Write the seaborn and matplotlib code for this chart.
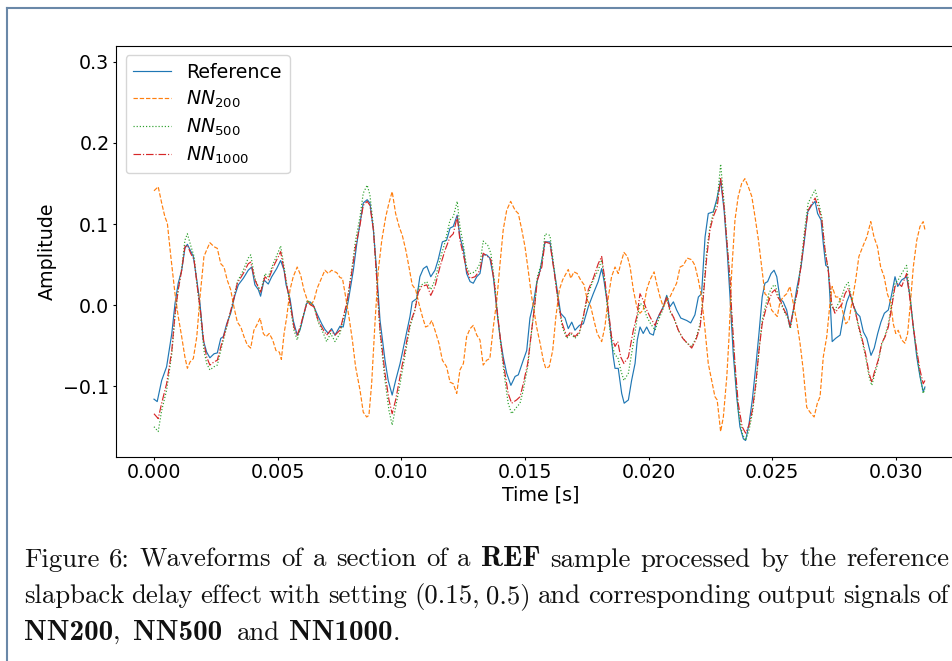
import re
import numpy as np
import matplotlib
matplotlib.use("Agg")
import matplotlib.pyplot as plt
from matplotlib.lines import Line2D
import seaborn as sns

# ---------------------------------------------------------------- data
# Reference output of the slapback delay (time in ms, amplitude)
t_ref_ms = [0.00, 0.13, 0.31, 0.51, 0.72, 0.85, 0.98, 1.12, 1.25, 1.35, 1.46, 1.59, 1.73, 1.86, 1.99, 2.13, 2.26, 2.43, 2.56, 2.70,
            2.80, 2.94, 3.10, 3.27, 3.41, 3.61, 3.81, 3.95, 4.08, 4.22, 4.31, 4.45, 4.62, 4.76, 4.96, 5.12, 5.26, 5.34, 5.50, 5.63,
            5.79, 5.90, 6.04, 6.17, 6.31, 6.44, 6.58, 6.78, 6.91, 7.05, 7.18, 7.32, 7.52, 7.65, 7.86, 8.06, 8.20, 8.33, 8.46, 8.62,
            8.73, 8.87, 9.00, 9.14, 9.34, 9.47, 9.63, 9.77, 9.95, 10.15, 10.35, 10.44, 10.62, 10.75, 10.89, 11.03, 11.19, 11.36, 11.49, 11.66,
            11.83, 11.97, 12.10, 12.26, 12.37, 12.51, 12.64, 12.78, 12.91, 13.05, 13.18, 13.31, 13.45, 13.58, 13.72, 13.86, 13.99, 14.12, 14.26, 14.43,
            14.60, 14.73, 14.93, 15.07, 15.20, 15.34, 15.47, 15.61, 15.81, 16.01, 16.14, 16.28, 16.44, 16.62, 16.75, 16.89, 17.02, 17.20, 17.36, 17.56,
            17.76, 17.96, 18.10, 18.19, 18.33, 18.44, 18.57, 18.64, 18.77, 18.91, 19.01, 19.18, 19.31, 19.45, 19.54, 19.65, 19.78, 19.92, 20.05, 20.19,
            20.32, 20.46, 20.59, 20.73, 20.86, 21.00, 21.13, 21.30, 21.54, 21.70, 21.87, 22.01, 22.14, 22.28, 22.41, 22.61, 22.75, 22.91, 23.05, 23.18,
            23.29, 23.42, 23.56, 23.69, 23.83, 23.92, 24.06, 24.19, 24.33, 24.46, 24.59, 24.70, 24.81, 24.95, 25.07, 25.18, 25.31, 25.44, 25.58, 25.71,
            25.85, 25.98, 26.16, 26.29, 26.43, 26.59, 26.73, 26.83, 26.97, 27.06, 27.16, 27.26, 27.33, 27.42, 27.56, 27.74, 27.87, 28.01, 28.14, 28.27,
            28.41, 28.54, 28.68, 28.82, 28.99, 29.12, 29.26, 29.39, 29.53, 29.69, 29.83, 29.96, 30.07, 30.23, 30.43, 30.57, 30.70, 30.84, 30.97, 31.10,
            31.17]
ref_amp = [-0.116, -0.119, -0.093, -0.076, -0.035, 0.002, 0.027, 0.043, 0.070, 0.075, 0.068, 0.060, 0.031, 0.002, -0.043, -0.058, -0.065, -0.060, -0.059, -0.041,
           -0.039, -0.023, -0.010, 0.012, 0.025, 0.033, 0.043, 0.047, 0.025, 0.019, 0.011, 0.031, 0.026, 0.035, 0.045, 0.055, 0.043, 0.025, 0.008, -0.019,
           -0.037, -0.031, -0.014, 0.002, 0.004, 0.000, -0.010, -0.023, -0.030, -0.035, -0.029, -0.037, -0.026, -0.027, 0.006, 0.043, 0.076, 0.101, 0.126, 0.130,
           0.126, 0.093, 0.043, -0.019, -0.068, -0.093, -0.111, -0.093, -0.072, -0.043, -0.014, 0.004, 0.008, 0.035, 0.045, 0.048, 0.035, 0.043, 0.056, 0.078,
           0.080, 0.095, 0.097, 0.111, 0.084, 0.068, 0.039, 0.029, 0.027, 0.035, 0.039, 0.062, 0.062, 0.058, 0.035, -0.006, -0.039, -0.064, -0.084, -0.099,
           -0.088, -0.086, -0.068, -0.056, -0.016, 0.002, 0.027, 0.043, 0.078, 0.078, 0.051, 0.023, -0.010, -0.016, -0.029, -0.021, -0.031, -0.025, -0.023, -0.002,
           0.014, 0.029, 0.045, 0.031, 0.002, -0.027, -0.064, -0.078, -0.078, -0.109, -0.121, -0.117, -0.093, -0.072, -0.043, -0.027, -0.035, -0.027, -0.035, -0.037,
           -0.019, -0.010, -0.002, 0.012, -0.002, 0.004, -0.006, -0.016, -0.019, -0.022, -0.012, 0.010, 0.014, 0.084, 0.113, 0.115, 0.130, 0.154, 0.117, 0.064,
           0.010, -0.060, -0.113, -0.150, -0.165, -0.167, -0.146, -0.117, -0.076, -0.035, 0.010, 0.027, 0.029, 0.039, 0.043, 0.035, 0.008, 0.004, -0.006, -0.027,
           -0.006, 0.019, 0.047, 0.078, 0.115, 0.123, 0.128, 0.113, 0.105, 0.076, 0.049, 0.047, 0.010, -0.045, -0.041, -0.037, -0.014, 0.004, 0.014, 0.000,
           -0.010, -0.014, -0.033, -0.041, -0.062, -0.053, -0.035, -0.021, -0.010, -0.006, 0.014, 0.035, 0.023, 0.031, 0.035, 0.010, -0.027, -0.064, -0.088, -0.107,
           -0.101]

# NN200 output (time in ms, amplitude)
t_nn200_ms = [0.00, 0.17, 0.31, 0.44, 0.54, 0.68, 0.85, 0.98, 1.12, 1.25, 1.35, 1.46, 1.59, 1.73, 1.86, 2.02, 2.13, 2.26, 2.43, 2.56,
              2.70, 2.83, 2.96, 3.10, 3.23, 3.37, 3.51, 3.64, 3.77, 3.91, 4.04, 4.15, 4.29, 4.42, 4.53, 4.66, 4.80, 4.93, 5.07, 5.15,
              5.26, 5.37, 5.50, 5.63, 5.79, 5.93, 6.06, 6.20, 6.34, 6.47, 6.60, 6.74, 6.91, 7.05, 7.18, 7.39, 7.52, 7.62, 7.75, 7.88,
              8.02, 8.15, 8.33, 8.46, 8.60, 8.69, 8.80, 8.94, 9.07, 9.21, 9.37, 9.50, 9.63, 9.77, 9.91, 10.04, 10.18, 10.31, 10.44, 10.58,
              10.71, 10.85, 10.98, 11.12, 11.23, 11.36, 11.52, 11.66, 11.83, 11.97, 12.10, 12.24, 12.37, 12.51, 12.64, 12.78, 12.91, 13.05, 13.18, 13.31,
              13.45, 13.58, 13.72, 13.86, 13.99, 14.12, 14.26, 14.42, 14.60, 14.73, 14.87, 15.00, 15.13, 15.27, 15.34, 15.47, 15.61, 15.74, 15.84, 15.98,
              16.12, 16.25, 16.39, 16.52, 16.66, 16.75, 16.85, 16.98, 17.11, 17.25, 17.39, 17.52, 17.66, 17.79, 17.92, 18.10, 18.23, 18.37, 18.50, 18.64,
              18.77, 18.87, 19.00, 19.14, 19.25, 19.38, 19.52, 19.65, 19.78, 19.92, 20.05, 20.22, 20.32, 20.46, 20.59, 20.73, 20.86, 21.00, 21.13, 21.27,
              21.40, 21.56, 21.74, 21.87, 22.01, 22.14, 22.28, 22.41, 22.55, 22.68, 22.77, 22.91, 23.02, 23.16, 23.25, 23.36, 23.49, 23.62, 23.76, 23.89,
              24.03, 24.17, 24.30, 24.44, 24.57, 24.70, 24.84, 24.97, 25.08, 25.20, 25.31, 25.44, 25.58, 25.71, 25.85, 25.98, 26.12, 26.25, 26.39, 26.52,
              26.69, 26.82, 26.93, 27.06, 27.20, 27.33, 27.42, 27.56, 27.70, 27.83, 27.97, 28.10, 28.21, 28.37, 28.50, 28.68, 28.82, 28.98, 29.11, 29.25,
              29.38, 29.52, 29.65, 29.79, 29.89, 29.99, 30.09, 30.23, 30.36, 30.47, 30.57, 30.70, 30.84, 30.97, 31.10, 31.17]
nn200_amp = [0.141, 0.146, 0.126, 0.109, 0.101, 0.060, 0.014, -0.014, -0.039, -0.064, -0.078, -0.070, -0.066, -0.039, 0.010, 0.060, 0.068, 0.077, 0.072, 0.070,
             0.051, 0.047, 0.031, 0.019, -0.002, -0.021, -0.027, -0.039, -0.049, -0.053, -0.031, -0.025, -0.016, -0.035, -0.039, -0.035, -0.043, -0.056, -0.058, -0.067,
             -0.035, -0.014, 0.019, 0.035, 0.047, 0.037, 0.019, 0.006, 0.000, 0.006, 0.021, 0.031, 0.043, 0.039, 0.043, 0.040, 0.034, 0.033, 0.010, -0.014,
             -0.043, -0.076, -0.105, -0.132, -0.138, -0.136, -0.097, -0.019, 0.043, 0.080, 0.109, 0.126, 0.140, 0.113, 0.097, 0.086, 0.068, 0.047, 0.025, 0.019,
             0.002, -0.014, -0.027, -0.025, -0.019, -0.031, -0.047, -0.068, -0.076, -0.095, -0.097, -0.109, -0.080, -0.072, -0.039, -0.029, -0.025, -0.037, -0.043, -0.074,
             -0.068, -0.066, -0.027, 0.006, 0.051, 0.093, 0.117, 0.128, 0.117, 0.113, 0.093, 0.072, 0.043, 0.010, -0.002, -0.027, -0.047, -0.068, -0.078, -0.076,
             -0.056, -0.014, 0.019, 0.031, 0.039, 0.044, 0.033, 0.041, 0.039, 0.031, 0.025, 0.006, -0.002, -0.019, -0.035, -0.045, -0.027, 0.010, 0.035, 0.047,
             0.039, 0.051, 0.065, 0.060, 0.047, 0.019, -0.002, -0.010, -0.006, 0.019, 0.031, 0.041, 0.027, 0.010, -0.002, 0.006, 0.010, 0.019, 0.027, 0.047,
             0.049, 0.058, 0.056, 0.049, 0.031, 0.010, -0.031, -0.072, -0.093, -0.113, -0.117, -0.156, -0.138, -0.088, -0.039, 0.043, 0.105, 0.134, 0.150, 0.156,
             0.146, 0.134, 0.109, 0.080, 0.047, 0.014, 0.010, -0.006, -0.010, -0.014, 0.004, 0.010, 0.014, 0.023, 0.002, -0.019, -0.047, -0.080, -0.126, -0.132,
             -0.138, -0.121, -0.113, -0.064, -0.039, 0.002, 0.023, 0.010, 0.010, -0.006, -0.023, -0.019, 0.002, 0.031, 0.060, 0.074, 0.084, 0.103, 0.084, 0.072,
             0.047, 0.035, 0.014, 0.002, -0.023, -0.035, -0.031, -0.043, -0.047, -0.035, -0.002, 0.047, 0.080, 0.097, 0.103, 0.093]

# NN500 and NN1000 outputs share one time base (ms)
t_nn_ms = [0.00, 0.17, 0.31, 0.51, 0.72, 0.85, 0.98, 1.12, 1.25, 1.35, 1.48, 1.62, 1.75, 1.89, 2.02, 2.13, 2.26, 2.43, 2.56, 2.74,
           2.96, 3.18, 3.37, 3.61, 3.81, 3.91, 4.08, 4.31, 4.49, 4.62, 4.82, 5.03, 5.12, 5.26, 5.37, 5.53, 5.66, 5.79, 5.93, 6.06,
           6.20, 6.34, 6.47, 6.64, 6.85, 6.98, 7.14, 7.32, 7.52, 7.79, 7.99, 8.15, 8.33, 8.46, 8.62, 8.73, 8.87, 9.00, 9.14, 9.34,
           9.50, 9.63, 9.77, 9.95, 10.15, 10.35, 10.55, 10.69, 10.82, 11.03, 11.19, 11.36, 11.56, 11.77, 11.97, 12.10, 12.26, 12.37, 12.51, 12.64,
           12.78, 12.98, 13.18, 13.31, 13.49, 13.62, 13.76, 13.90, 14.06, 14.19, 14.32, 14.46, 14.66, 14.80, 14.93, 15.11, 15.27, 15.40, 15.50, 15.68,
           15.81, 16.01, 16.17, 16.35, 16.51, 16.69, 16.85, 17.02, 17.20, 17.36, 17.56, 17.76, 17.96, 18.10, 18.23, 18.37, 18.50, 18.64, 18.75, 18.87,
           19.00, 19.18, 19.38, 19.52, 19.65, 19.78, 19.92, 20.08, 20.26, 20.39, 20.57, 20.73, 20.86, 21.02, 21.20, 21.38, 21.56, 21.74, 21.91, 22.08,
           22.21, 22.35, 22.48, 22.61, 22.77, 22.91, 23.05, 23.18, 23.29, 23.36, 23.49, 23.62, 23.78, 23.92, 24.06, 24.19, 24.33, 24.46, 24.59, 24.73,
           24.86, 25.00, 25.11, 25.22, 25.35, 25.48, 25.62, 25.73, 25.86, 26.03, 26.19, 26.32, 26.45, 26.62, 26.73, 26.86, 27.00, 27.13, 27.26, 27.40,
           27.53, 27.67, 27.80, 27.94, 28.07, 28.21, 28.37, 28.50, 28.64, 28.77, 28.91, 29.02, 29.15, 29.28, 29.42, 29.56, 29.69, 29.83, 29.96, 30.09,
           30.23, 30.43, 30.57, 30.70, 30.84, 30.97, 31.10, 31.17]
nn500_amp = [-0.150, -0.156, -0.130, -0.105, -0.060, -0.014, 0.019, 0.045, 0.080, 0.088, 0.074, 0.060, 0.023, -0.014, -0.056, -0.072, -0.080, -0.076, -0.074, -0.051,
             -0.025, 0.002, 0.029, 0.043, 0.058, 0.062, 0.033, 0.016, 0.039, 0.035, 0.051, 0.066, 0.073, 0.047, 0.025, -0.006, -0.031, -0.043, -0.027, -0.010,
             0.006, 0.002, -0.002, -0.021, -0.035, -0.045, -0.035, -0.045, -0.035, 0.000, 0.043, 0.080, 0.109, 0.138, 0.148, 0.136, 0.097, 0.035, -0.035, -0.093,
             -0.130, -0.148, -0.126, -0.097, -0.062, -0.027, -0.006, 0.021, 0.025, 0.029, 0.019, 0.031, 0.056, 0.078, 0.105, 0.109, 0.128, 0.097, 0.074, 0.047,
             0.039, 0.041, 0.051, 0.079, 0.074, 0.064, 0.031, -0.014, -0.060, -0.093, -0.121, -0.134, -0.126, -0.121, -0.105, -0.076, -0.031, 0.002, 0.035, 0.053,
             0.088, 0.086, 0.047, 0.002, -0.027, -0.041, -0.035, -0.041, -0.035, -0.014, 0.014, 0.031, 0.043, 0.056, 0.027, -0.014, -0.047, -0.062, -0.064, -0.080,
             -0.093, -0.084, -0.047, -0.019, 0.002, 0.000, -0.014, -0.023, -0.031, -0.019, -0.006, 0.010, -0.008, -0.016, -0.031, -0.041, -0.047, -0.051, -0.041, -0.023,
             0.014, 0.068, 0.097, 0.113, 0.128, 0.174, 0.126, 0.072, 0.031, -0.014, -0.080, -0.130, -0.158, -0.167, -0.154, -0.134, -0.101, -0.056, -0.019, 0.000,
             0.014, 0.023, 0.025, 0.014, 0.002, -0.008, -0.016, -0.029, -0.006, 0.021, 0.060, 0.097, 0.126, 0.136, 0.142, 0.128, 0.109, 0.068, 0.043, -0.002,
             -0.006, 0.002, 0.010, 0.023, 0.028, 0.008, -0.010, -0.029, -0.045, -0.064, -0.088, -0.099, -0.084, -0.070, -0.049, -0.037, -0.023, 0.002, 0.027, 0.031,
             0.039, 0.049, 0.010, -0.027, -0.060, -0.086, -0.109, -0.103]
nn1000_amp = [-0.134, -0.140, -0.121, -0.097, -0.056, -0.010, 0.019, 0.043, 0.072, 0.074, 0.064, 0.056, 0.023, -0.010, -0.047, -0.064, -0.074, -0.070, -0.068, -0.047,
              -0.023, 0.002, 0.027, 0.039, 0.051, 0.053, 0.031, 0.016, 0.035, 0.031, 0.047, 0.060, 0.066, 0.043, 0.025, -0.002, -0.027, -0.037, -0.025, -0.010,
              0.004, 0.000, -0.002, -0.019, -0.031, -0.037, -0.031, -0.037, -0.031, 0.002, 0.039, 0.072, 0.099, 0.123, 0.128, 0.123, 0.093, 0.035, -0.031, -0.084,
              -0.117, -0.134, -0.117, -0.088, -0.056, -0.023, -0.006, 0.016, 0.023, 0.025, 0.012, 0.023, 0.047, 0.068, 0.084, 0.088, 0.109, 0.080, 0.062, 0.043,
              0.033, 0.035, 0.043, 0.064, 0.060, 0.056, 0.027, -0.014, -0.056, -0.084, -0.109, -0.121, -0.117, -0.113, -0.097, -0.072, -0.031, 0.002, 0.031, 0.047,
              0.078, 0.076, 0.043, 0.002, -0.023, -0.039, -0.033, -0.039, -0.033, -0.014, 0.019, 0.033, 0.051, 0.060, 0.031, -0.006, -0.039, -0.051, -0.045, -0.064,
              -0.072, -0.064, -0.031, -0.014, 0.014, 0.006, -0.006, -0.016, -0.025, -0.014, -0.004, 0.010, -0.006, -0.016, -0.031, -0.041, -0.047, -0.053, -0.043, -0.027,
              0.010, 0.060, 0.093, 0.109, 0.121, 0.156, 0.121, 0.072, 0.031, -0.010, -0.072, -0.121, -0.150, -0.158, -0.148, -0.130, -0.097, -0.056, -0.023, -0.006,
              0.006, 0.016, 0.019, 0.010, 0.004, -0.006, -0.014, -0.027, -0.004, 0.019, 0.056, 0.088, 0.117, 0.126, 0.132, 0.121, 0.105, 0.068, 0.043, 0.002,
              -0.010, -0.004, 0.000, 0.014, 0.021, 0.006, -0.010, -0.027, -0.043, -0.060, -0.084, -0.095, -0.080, -0.068, -0.047, -0.039, -0.027, -0.002, 0.023, 0.027,
              0.023, 0.039, 0.006, -0.027, -0.056, -0.080, -0.097, -0.093]

series_labels = ["Reference", r"$NN_{200}$", r"$NN_{500}$", r"$NN_{1000}$"]
x_ticks = [0.000, 0.005, 0.010, 0.015, 0.020, 0.025, 0.030]
y_ticks = [-0.1, 0.0, 0.1, 0.2, 0.3]

caption_lines = [
    "Figure 6: Waveforms of a section of a **REF** sample processed by the reference",
    "slapback delay effect with setting (0.15, 0.5) and corresponding output signals of",
    "**NN200**, **NN500** and **NN1000**.",
]

for name, t, v in [("ref", t_ref_ms, ref_amp), ("nn200", t_nn200_ms, nn200_amp),
                   ("nn500", t_nn_ms, nn500_amp), ("nn1000", t_nn_ms, nn1000_amp)]:
    assert len(t) == len(v), f"{name}: {len(t)} times vs {len(v)} values"

# ---------------------------------------------------------------- figure
W, H = 953, 661
fig = plt.figure(figsize=(W / 100, H / 100), dpi=100)
fig.patch.set_facecolor("white")

# axes run past the right edge of the page image
ax = fig.add_axes([116 / W, 1 - 456.7 / H, (965 - 116) / W, (456.7 - 45.7) / H])

series = [
    (t_ref_ms, ref_amp, "#1f77b4", "-", series_labels[0]),
    (t_nn200_ms, nn200_amp, "#ff7f0e", "--", series_labels[1]),
    (t_nn_ms, nn500_amp, "#2ca02c", ":", series_labels[2]),
    (t_nn_ms, nn1000_amp, "#d62728", "-.", series_labels[3]),
]
for t_ms, amp, col, ls, lab in series:
    sns.lineplot(x=np.asarray(t_ms) / 1000.0, y=amp, ax=ax, color=col, linestyle=ls,
                 linewidth=0.85, label=lab, estimator=None, sort=False)

ax.set_xlim(-0.001536, 0.03279)
ax.set_ylim(-0.187, 0.320)
ax.set_xticks(x_ticks)
ax.set_yticks(y_ticks)
ax.tick_params(labelsize=13.7, length=2.5, pad=2.2, width=0.8)
ax.set_xlabel("Time [s]", fontsize=13.7, labelpad=2.5)
ax.set_ylabel("Amplitude", fontsize=13.7, labelpad=5)
ax.legend(loc="upper left", fontsize=13.7, labelspacing=0.35)

# page frame lines
frame_col = "#6a88a8"
fig.add_artist(Line2D([7.5 / W, 1.0], [1 - 7.5 / H, 1 - 7.5 / H], transform=fig.transFigure,
                      color=frame_col, lw=1.5))
fig.add_artist(Line2D([7.5 / W, 7.5 / W], [0.0, 1 - 7.5 / H], transform=fig.transFigure,
                      color=frame_col, lw=1.5))

# ---------------------------------------------------------------- caption
cap_left, cap_right = 24.0, 949.0
cap_baselines = [566.5, 603.3, 640.0]
cap_justify = [True, True, False]
last_line_starts = [24.0, 133.0, 237.0, 289.0]   # word start positions (px) of the closing line
word_gap = 7.0
renderer = fig.canvas.get_renderer()


def text_width(txt, family, size):
    probe = fig.text(0, 0, txt, fontfamily=family, fontsize=size)
    w = probe.get_window_extent(renderer).width
    probe.remove()
    return w


def word_runs(word):
    out = []
    for part in re.split(r"(\*\*[^*]+\*\*)", word):
        if not part:
            continue
        if part.startswith("**"):
            out.append((part[2:-2], True))
        else:
            out.append((part, False))
    return out


# size the roman face so the second line sets with ordinary word spacing,
# and the bold face so "NN1000" spans its usual width
probe_fs = 20.0
line2_words = caption_lines[1].split(" ")
line2_w = sum(text_width(w, "cmr10", probe_fs) for w in line2_words)
cap_fs = probe_fs * (cap_right - cap_left - (len(line2_words) - 1) * word_gap) / line2_w
bold_fs = probe_fs * 104.0 / text_width("NN1000", "cmb10", probe_fs)

for line, base, just in zip(caption_lines, cap_baselines, cap_justify):
    items = []
    for word in line.split(" "):
        arts = [fig.text(0, 1 - base / H, txt, fontfamily="cmb10" if bold else "cmr10",
                         fontsize=bold_fs if bold else cap_fs, va="baseline", ha="left",
                         color="#111111")
                for txt, bold in word_runs(word)]
        items.append(arts)
    widths = [[a.get_window_extent(renderer).width for a in arts] for arts in items]
    total = sum(sum(ws) for ws in widths)
    if just:
        gap = (cap_right - cap_left - total) / (len(items) - 1)
        starts = []
        x = cap_left
        for ws in widths:
            starts.append(x)
            x += sum(ws) + gap
    else:
        starts = last_line_starts
    for arts, ws, x in zip(items, widths, starts):
        for a, w in zip(arts, ws):
            a.set_x(x / W)
            x += w

fig.savefig("out.png", dpi=100, facecolor="white")
